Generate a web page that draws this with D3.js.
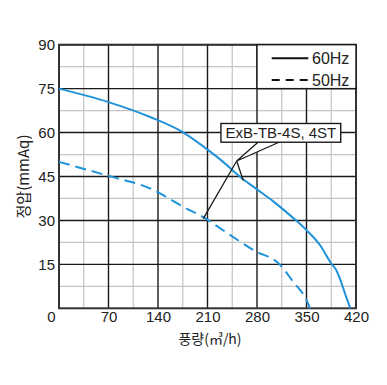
<!DOCTYPE html>
<html>
<head>
<meta charset="utf-8">
<script src="https://cdn.jsdelivr.net/npm/d3@7"></script>
<style>
  body { margin: 0; background: #fff; }
  text { font-family: "Liberation Sans", Arial, sans-serif; fill: #222; }
  .kr { font-family: "Noto Sans CJK KR", "Liberation Sans", sans-serif; }
</style>
</head>
<body>
<div id="chart"></div>
<script>
// data
var flow60 = [0, 70, 129, 176, 211, 235, 256, 280, 303, 329, 350, 369, 385, 392, 406, 412];
var press60 = [75, 70.4, 65.3, 60, 54, 49.4, 44.9, 40.6, 36.5, 31.3, 26.7, 21.6, 15.3, 13.1, 4, 0];
var flow50 = [0, 70, 129, 176, 207, 228, 277, 312, 331, 350, 355];
var press50 = [50, 45.2, 40.9, 34.6, 30.7, 27.3, 19.6, 15, 9.1, 2.8, 0];
var xTicks = [70, 140, 210, 280, 350, 420];
var yTicks = [15, 30, 45, 60, 75, 90];
var legendNames = ["60Hz", "50Hz"];
var modelLabel = "ExB-TB-4S, 4ST";

var W = 387, H = 385;
var margin = {left: 59, top: 44.7, right: 31, bottom: 76.7};
var width = W - margin.left - margin.right;
var height = H - margin.top - margin.bottom;
var blue = "#1f93da";

let svg = d3.select("#chart").append("svg")
    .attr("width", W)
    .attr("height", H);

let g = svg.append("g").attr("transform", "translate(" + margin.left + "," + margin.top + ")");

let x = d3.scaleLinear().domain([0, 420]).range([0, width]);
let y = d3.scaleLinear().domain([0, 90]).range([height, 0]);

// grid: minor lines first, then major
var xMinor = d3.range(35, 420, 70);
var yMinor = d3.range(7.5, 90, 15);

g.selectAll(".vminor").data(xMinor).join("line")
    .attr("x1", d => x(d)).attr("x2", d => x(d))
    .attr("y1", 0).attr("y2", height)
    .attr("stroke", "#c4c4c4").attr("stroke-width", 1.2);
g.selectAll(".hminor").data(yMinor).join("line")
    .attr("y1", d => y(d)).attr("y2", d => y(d))
    .attr("x1", 0).attr("x2", width)
    .attr("stroke", "#c4c4c4").attr("stroke-width", 1.2);

g.selectAll(".vmajor").data(xTicks).join("line")
    .attr("x1", d => x(d)).attr("x2", d => x(d))
    .attr("y1", 0).attr("y2", height)
    .attr("stroke", "#1a1a1a").attr("stroke-width", 1.4);
g.selectAll(".hmajor").data(yTicks).join("line")
    .attr("y1", d => y(d)).attr("y2", d => y(d))
    .attr("x1", 0).attr("x2", width)
    .attr("stroke", "#1a1a1a").attr("stroke-width", 1.4);

// frame
g.append("rect")
    .attr("x", 0).attr("y", 0)
    .attr("width", width).attr("height", height)
    .attr("fill", "none")
    .attr("stroke", "#333").attr("stroke-width", 2);

// curves
let line = d3.line()
    .x(d => x(d[0]))
    .y(d => y(d[1]))
    .curve(d3.curveMonotoneX);

g.append("path")
    .datum(d3.zip(flow60, press60))
    .attr("d", line)
    .attr("fill", "none")
    .attr("stroke", blue)
    .attr("stroke-width", 2);

g.append("path")
    .datum(d3.zip(flow50, press50))
    .attr("d", line)
    .attr("fill", "none")
    .attr("stroke", blue)
    .attr("stroke-width", 2)
    .attr("stroke-dasharray", "11,6");

// legend box sits in the top right grid cells
let lg = g.append("g");
lg.append("rect")
    .attr("x", x(280)).attr("y", y(90))
    .attr("width", x(420) - x(280)).attr("height", y(75) - y(90))
    .attr("fill", "#fff")
    .attr("stroke", "#1a1a1a").attr("stroke-width", 1.4);

legendNames.forEach(function(name, i) {
    let ly = 13.6 + i * 21.8;
    lg.append("line")
        .attr("x1", 212.7).attr("x2", 249.3)
        .attr("y1", ly).attr("y2", ly)
        .attr("stroke", "#111").attr("stroke-width", 2)
        .attr("stroke-dasharray", i == 0 ? null : "8,6");
    lg.append("text")
        .attr("x", 253).attr("y", ly)
        .attr("dy", "0.36em")
        .style("font-size", "16px")
        .text(name);
});

// model label with pointer
let apex = [251.3, 50.3];
let pts = [[281.4, 56.7], apex, [311.1, 56.7]];
g.append("path")
    .attr("d", d3.line().x(d => x(d[0])).y(d => y(d[1]))(pts))
    .attr("fill", "#fff")
    .attr("stroke", "#1a1a1a").attr("stroke-width", 1.3);
g.append("line")
    .attr("x1", x(apex[0])).attr("y1", y(apex[1]))
    .attr("x2", x(260.6)).attr("y2", y(43.6))
    .attr("stroke", "#1a1a1a").attr("stroke-width", 1.3);
g.append("line")
    .attr("x1", x(apex[0])).attr("y1", y(apex[1]))
    .attr("x2", x(204)).attr("y2", y(30.6))
    .attr("stroke", "#1a1a1a").attr("stroke-width", 1.3);

g.append("rect")
    .attr("x", x(229)).attr("y", y(63.1))
    .attr("width", x(398.4) - x(229)).attr("height", y(56.7) - y(63.1))
    .attr("fill", "#fff")
    .attr("stroke", "#1a1a1a").attr("stroke-width", 1.4);
g.append("text")
    .attr("x", (x(229) + x(398.4)) / 2)
    .attr("y", (y(63.1) + y(56.7)) / 2)
    .attr("dy", "0.36em")
    .attr("text-anchor", "middle")
    .style("font-size", "15px")
    .text(modelLabel);

// axes (labels only)
let yAxis = g.append("g")
    .call(d3.axisLeft(y).tickValues(yTicks).tickSize(0).tickPadding(4));
let xAxis = g.append("g")
    .attr("transform", "translate(0," + height + ")")
    .call(d3.axisBottom(x).tickValues([0].concat(xTicks)).tickSize(0).tickPadding(3));
[yAxis, xAxis].forEach(function(a) {
    a.select(".domain").remove();
    a.selectAll("text")
        .style("font-family", "'Liberation Sans', Arial, sans-serif")
        .style("font-size", "15px")
        .attr("fill", "#222");
});
xAxis.selectAll(".tick").filter(d => d == 0).select("text")
    .attr("text-anchor", "end")
    .attr("x", -4);

// axis titles
svg.append("text")
    .attr("class", "kr")
    .attr("x", 210).attr("y", 344)
    .attr("text-anchor", "middle")
    .style("font-size", "14px")
    .text("풍량(㎥/h)");

svg.append("text")
    .attr("class", "kr")
    .attr("transform", "translate(29," + (margin.top + height / 2) + ") rotate(-90)")
    .attr("text-anchor", "middle")
    .style("font-size", "15px")
    .text("정압(mmAq)");
</script>
</body>
</html>
